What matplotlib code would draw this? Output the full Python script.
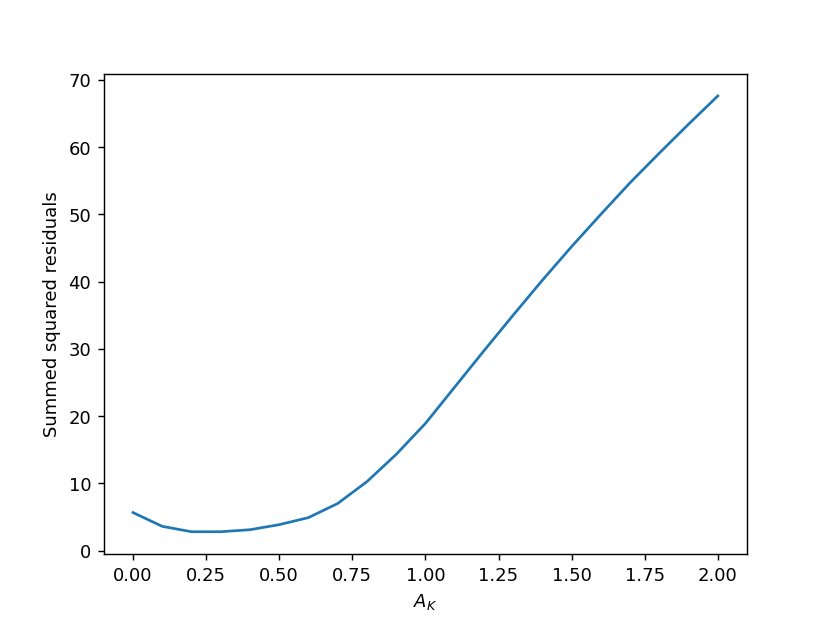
import numpy as np
import matplotlib
matplotlib.use("Agg")
import matplotlib.pyplot as plt

a_k = [0.0, 0.1, 0.2, 0.3, 0.4, 0.5, 0.6, 0.7, 0.8, 0.9, 1.0,
       1.1, 1.2, 1.3, 1.4, 1.5, 1.6, 1.7, 1.8, 1.9, 2.0]
ssr = [5.65, 3.6, 2.8, 2.8, 3.1, 3.85, 4.9, 7.0, 10.25, 14.3, 18.9,
       24.3, 29.7, 35.0, 40.2, 45.2, 50.0, 54.7, 59.1, 63.4, 67.6]

fig, ax = plt.subplots(figsize=(6.4, 4.8), dpi=129.7)
ax.plot(a_k, ssr)
ax.set_xlabel(r"$A_K$")
ax.set_ylabel("Summed squared residuals")
fig.savefig("out.png", dpi=129.7)
